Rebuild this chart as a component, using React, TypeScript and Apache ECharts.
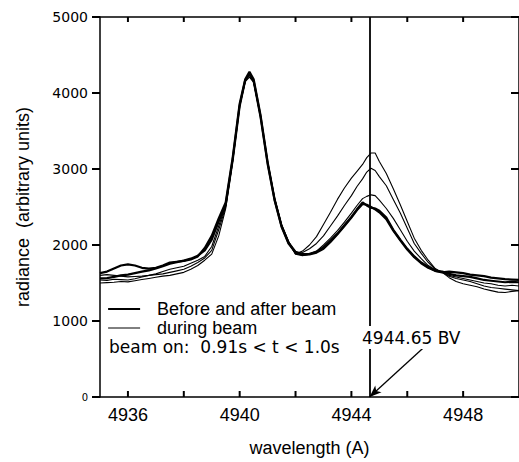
import React, { useEffect, useRef } from "react";
import * as echarts from "echarts";

// wavelength grid (Angstrom), shared by all curves
const wavelength = [
  4935.0, 4935.25, 4935.5, 4935.75, 4936.0, 4936.25, 4936.5, 4936.75, 4937.0, 4937.25,
  4937.5, 4937.75, 4938.0, 4938.25, 4938.5, 4938.75, 4939.0, 4939.25, 4939.5, 4939.75,
  4940.0, 4940.2, 4940.35, 4940.5, 4940.75, 4941.0, 4941.25, 4941.5, 4941.75, 4942.0,
  4942.25, 4942.5, 4942.75, 4943.0, 4943.25, 4943.5, 4943.75, 4944.0, 4944.2, 4944.4,
  4944.55, 4944.7, 4944.85, 4945.0, 4945.25, 4945.5, 4945.75, 4946.0, 4946.25, 4946.5,
  4946.75, 4947.0, 4947.25, 4947.5, 4947.75, 4948.0, 4948.25, 4948.5, 4948.75, 4949.0,
  4949.25, 4949.5, 4949.75, 4950.0,
];

const beforeBeam = [
  1630, 1650, 1690, 1730, 1745, 1730, 1700, 1690, 1700, 1730, 1770, 1780, 1790, 1810, 1850,
  1960, 2120, 2350, 2560, 3150, 3860, 4180, 4280, 4180, 3700, 3090, 2600, 2250, 2030,
  1910, 1880, 1885, 1910, 1970, 2060, 2150, 2260, 2370, 2470, 2560, 2520, 2490, 2480,
  2450, 2360, 2200, 2070, 1950, 1850, 1770, 1710, 1660, 1640, 1650, 1640, 1630, 1610, 1600,
  1590, 1570, 1560, 1550, 1545, 1540,
];
const afterBeam = [
  1560, 1565, 1580, 1600, 1610, 1630, 1650, 1665, 1690, 1720, 1755, 1775, 1795, 1820, 1860,
  1930, 2070, 2310, 2530, 3120, 3830, 4170, 4250, 4160, 3680, 3070, 2590, 2240, 2020,
  1900, 1870, 1875, 1900, 1950, 2040, 2140, 2250, 2360, 2460, 2540, 2530, 2500, 2470,
  2430, 2340, 2190, 2060, 1940, 1840, 1760, 1700, 1660, 1650, 1620, 1600, 1590, 1580, 1560,
  1540, 1530, 1520, 1510, 1515, 1510,
];
const duringBeamA = [
  1540, 1535, 1550, 1545, 1540, 1555, 1580, 1600, 1610, 1620, 1640, 1660, 1680, 1720, 1770,
  1830, 1930, 2200, 2500, 3110, 3840, 4160, 4230, 4150, 3690, 3090, 2610, 2260, 2040,
  1880, 1860, 1880, 1920, 2000, 2090, 2190, 2300, 2420, 2520, 2610, 2640, 2660, 2650,
  2590, 2480, 2350, 2200, 2050, 1920, 1820, 1730, 1670, 1640, 1600, 1580, 1560, 1540, 1520,
  1500, 1490, 1470, 1460, 1470, 1460,
];
const duringBeamB = [
  1500, 1505, 1510, 1520, 1515, 1530, 1545, 1560, 1575, 1590, 1600, 1620, 1640, 1680, 1730,
  1800, 1880, 2120, 2480, 3100, 3820, 4150, 4210, 4140, 3690, 3100, 2620, 2270, 2050,
  1890, 1900, 1950, 2020, 2120, 2250, 2380, 2520, 2650, 2770, 2870, 2960, 3010, 2980,
  2900, 2780, 2600, 2420, 2220, 2020, 1890, 1770, 1680, 1640, 1590, 1560, 1540, 1520, 1490,
  1460, 1440, 1430, 1420, 1410, 1400,
];
const duringBeamC = [
  1600, 1610, 1600, 1590, 1580, 1585, 1590, 1600, 1620, 1650, 1680, 1700, 1720, 1760, 1800,
  1850, 1980, 2250, 2520, 3130, 3850, 4170, 4240, 4160, 3690, 3080, 2600, 2250, 2030,
  1880, 1920, 2000, 2110, 2270, 2430, 2600, 2750, 2880, 2970, 3060, 3150, 3210, 3210,
  3100, 2940, 2740, 2530, 2310, 2090, 1930, 1800, 1690, 1640, 1570, 1520, 1490, 1470, 1450,
  1420, 1400, 1380, 1375, 1390, 1400,
];

const X_MIN = 4935;
const X_MAX = 4950;
const Y_MIN = 0;
const Y_MAX = 5000;
const xLabelValues = [4936, 4940, 4944, 4948];
const xTickValues = [4936, 4938, 4940, 4942, 4944, 4946, 4948];
const yTickValues = [0, 1000, 2000, 3000, 4000, 5000];
const markerWavelength = 4944.65;
const arrowStart = [4946.57, 645];
const markerText = "4944.65 BV";
const legendThick = "Before and after beam";
const legendThin = "during beam";
const beamNote = "beam on:  0.91s < t < 1.0s";

const FONT = '"Liberation Sans", Arial, Helvetica, sans-serif';
const DJ = '"DejaVu Sans", Verdana, sans-serif';
const TICK = "#000";

const toPairs = (vals: number[]) => wavelength.map((w, i) => [w, vals[i]]);

export default function App() {
  const ref = useRef<HTMLDivElement>(null);
  useEffect(() => {
    document.body.style.margin = "0";
    const chart = echarts.init(ref.current!, undefined, { renderer: "svg" });
    const baseLine = (name: string, vals: number[], width: number) => ({
      type: "line",
      name,
      data: toPairs(vals),
      showSymbol: false,
      symbol: "none",
      lineStyle: { color: "#000", width },
      itemStyle: { color: "#000" },
      silent: true,
      z: width > 2 ? 4 : 3,
    });
    const ls = () => ({ color: "#000", width: 1.5 });
    const tickStyle = () => ({ stroke: TICK, lineWidth: 2, fill: "none" });
    chart.setOption({
      animation: false,
      backgroundColor: "#fff",
      textStyle: { fontFamily: FONT },
      grid: { left: 100, top: 17, width: 419, height: 380, containLabel: false },
      legend: {
        data: [
          { name: legendThick, lineStyle: { width: 2.2, color: "#000" } },
          { name: legendThin, lineStyle: { width: 1, color: "#000" } },
        ],
        orient: "vertical",
        left: 107,
        top: 300,
        itemWidth: 32,
        itemHeight: 14,
        itemGap: 1,
        padding: 0,
        selectedMode: false,
        itemStyle: { color: "transparent", borderColor: "transparent", borderWidth: 0, opacity: 0 },
        textStyle: { fontSize: 18, color: "#000", fontFamily: FONT, padding: [0, 0, 0, 12], lineHeight: 18 },
      },
      xAxis: [
        {
          type: "value",
          min: X_MIN,
          max: X_MAX,
          position: "bottom",
          name: "wavelength (A)",
          nameLocation: "middle",
          nameGap: 42,
          nameTextStyle: { fontSize: 18, color: "#000", fontFamily: FONT },
          axisLine: { show: true, onZero: false, lineStyle: ls() },
          axisTick: { show: false },
          axisLabel: {
            show: true,
            customValues: xLabelValues,
            fontSize: 18,
            color: "#000",
            margin: 9,
            fontFamily: FONT,
            formatter: (v: number) => String(v),
          },
          splitLine: { show: false },
        },
        {
          type: "value",
          min: X_MIN,
          max: X_MAX,
          position: "top",
          axisLine: { show: true, onZero: false, lineStyle: ls() },
          axisTick: { show: false },
          axisLabel: { show: false },
          splitLine: { show: false },
        },
      ],
      yAxis: [
        {
          type: "value",
          min: Y_MIN,
          max: Y_MAX,
          interval: 1000,
          position: "left",
          name: "radiance  (arbitrary units)",
          nameLocation: "middle",
          nameGap: 68,
          nameTextStyle: { fontSize: 18, color: "#000", fontFamily: FONT },
          axisLine: { show: true, onZero: false, lineStyle: ls() },
          axisTick: { show: false },
          axisLabel: {
            fontSize: 14,
            color: "#000",
            margin: 12,
            fontFamily: DJ,
            formatter: (v: number) => (v === 0 ? "{s|0}" : String(v)),
            rich: { s: { fontSize: 10, color: "#000", fontFamily: DJ } },
          },
          splitLine: { show: false },
        },
        {
          type: "value",
          min: Y_MIN,
          max: Y_MAX,
          interval: 1000,
          position: "right",
          axisLine: { show: true, onZero: false, lineStyle: ls() },
          axisTick: { show: false },
          axisLabel: { show: false },
          splitLine: { show: false },
        },
      ],
      series: [
        baseLine(legendThin, duringBeamA, 1.1),
        baseLine(legendThin, duringBeamB, 1.1),
        baseLine(legendThin, duringBeamC, 1.1),
        baseLine(legendThick, beforeBeam, 2.2),
        baseLine(legendThick, afterBeam, 2.2),
        {
          type: "custom",
          name: "xticks",
          silent: true,
          clip: false,
          z: 10,
          data: xTickValues.map((v) => [v, Y_MAX / 2]),
          renderItem: (params: any, api: any) => {
            const w = api.value(0);
            const b = api.coord([w, Y_MIN]);
            const t = api.coord([w, Y_MAX]);
            return {
              type: "group",
              children: [
                { type: "rect", shape: { x: b[0] - 1, y: b[1] - 6, width: 2, height: 6 }, style: { fill: TICK } },
                { type: "rect", shape: { x: t[0] - 1, y: t[1], width: 2, height: 5 }, style: { fill: TICK } },
              ],
            };
          },
        },
        {
          type: "custom",
          name: "yticks",
          silent: true,
          clip: false,
          z: 10,
          data: yTickValues.map((v) => [(X_MIN + X_MAX) / 2, v]),
          renderItem: (params: any, api: any) => {
            const v = api.value(1);
            const l = api.coord([X_MIN, v]);
            const r = api.coord([X_MAX, v]);
            return {
              type: "group",
              children: [
                { type: "rect", shape: { x: l[0] - 8, y: l[1] - 1, width: 8, height: 2 }, style: { fill: TICK } },
                { type: "rect", shape: { x: r[0] - 8, y: r[1] - 1, width: 8, height: 2 }, style: { fill: TICK } },
              ],
            };
          },
        },
        {
          type: "line",
          name: "marker",
          data: [],
          silent: true,
          z: 5,
          markLine: {
            silent: true,
            symbol: ["none", "none"],
            label: { show: false },
            lineStyle: { color: "#000", width: 1.8, type: "solid" },
            data: [{ xAxis: markerWavelength }],
          },
        },
        {
          type: "line",
          name: "arrow",
          data: [],
          silent: true,
          z: 5,
          markLine: {
            silent: true,
            symbol: ["none", "arrow"],
            symbolSize: [7, 12],
            label: { show: false },
            lineStyle: { color: "#000", width: 1.3, type: "solid" },
            data: [[{ coord: arrowStart }, { coord: [markerWavelength, 0] }]],
          },
        },
      ],
      graphic: [
        {
          type: "text",
          x: 362,
          y: 337.5,
          z: 100,
          style: {
            text: markerText,
            font: `17px ${DJ}`,
            fill: "#000",
            verticalAlign: "middle",
            backgroundColor: "#fff",
            padding: [3, 0, 3, 0],
          },
        },
        {
          type: "text",
          x: 109,
          y: 347,
          z: 100,
          style: {
            text: beamNote,
            font: `17px ${DJ}`,
            fill: "#000",
            verticalAlign: "middle",
          },
        },
      ],
    });
    return () => chart.dispose();
  }, []);
  return <div ref={ref} style={{ width: 519, height: 462 }} />;
}
